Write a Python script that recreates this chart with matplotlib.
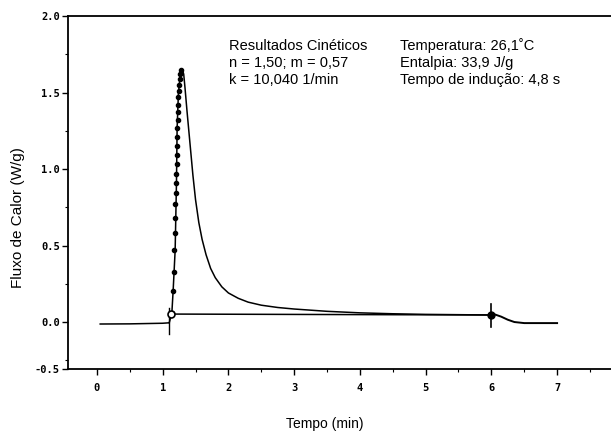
import matplotlib.pyplot as plt
from matplotlib.ticker import MultipleLocator

base_x = [0.05, 0.5, 1.0, 1.10]
base_y = [-0.013, -0.012, -0.008, -0.005]

peak_x = [1.10, 1.14, 1.16, 1.19, 1.21, 1.22, 1.24, 1.27, 1.30, 1.32, 1.34, 1.37, 1.40,
          1.43, 1.46, 1.50, 1.55, 1.60, 1.66, 1.73, 1.80, 1.90, 2.0, 2.15, 2.3, 2.5,
          2.75, 3.0, 3.5, 4.0, 4.5, 5.0, 5.5, 6.0]
peak_y = [-0.005, 0.06, 0.21, 0.47, 0.91, 1.27, 1.50, 1.62, 1.65, 1.62, 1.53, 1.38, 1.24,
          1.10, 0.96, 0.80, 0.65, 0.54, 0.44, 0.35, 0.29, 0.23, 0.19, 0.155, 0.13, 0.11,
          0.095, 0.085, 0.07, 0.06, 0.054, 0.05, 0.048, 0.046]

tail_x = [6.0, 6.05, 6.15, 6.25, 6.35, 6.5, 7.0]
tail_y = [0.046, 0.05, 0.035, 0.015, 0.0, -0.007, -0.007]

# kinetic fit points
fit_x = [1.14, 1.155, 1.165, 1.18, 1.185, 1.19, 1.195, 1.20, 1.205, 1.21, 1.212, 1.215,
         1.218, 1.22, 1.222, 1.226, 1.23, 1.234, 1.238, 1.245, 1.25, 1.26, 1.27, 1.285]
fit_y = [0.06, 0.20, 0.33, 0.47, 0.58, 0.68, 0.77, 0.84, 0.91, 0.97, 1.03, 1.09,
         1.15, 1.21, 1.27, 1.32, 1.37, 1.42, 1.47, 1.51, 1.55, 1.59, 1.62, 1.645]

# integration baseline and its limits
line_x = [1.13, 6.0]
line_y = [0.052, 0.046]

ytick_pos = [-0.307, 0.0, 0.5, 1.0, 1.5, 2.0]
ytick_lbl = ['-0.5', '0.0', '0.5', '1.0', '1.5', '2.0']
xticks = [0, 1, 2, 3, 4, 5, 6, 7]

col1 = ['Resultados Cinéticos', 'n = 1,50; m = 0,57', 'k = 10,040 1/min']
col2 = ['Temperatura: 26,1˚C', 'Entalpia: 33,9 J/g', 'Tempo de indução: 4,8 s']

plt.rcParams['font.family'] = ['Liberation Sans', 'DejaVu Sans']

fig = plt.figure(figsize=(6.11, 4.36), dpi=100)
ax = fig.add_axes([68 / 611, 67 / 436, 543 / 611, 353 / 436])

ax.plot(base_x, base_y, color='black', lw=1.1)
ax.plot(peak_x, peak_y, color='black', lw=1.1)
ax.plot(tail_x, tail_y, color='black', lw=1.4)
ax.plot(fit_x, fit_y, 'o', color='black', ms=3)
ax.plot(line_x, line_y, color='black', lw=1.1)
ax.plot([1.10, 1.10], [-0.08, 0.09], color='black', lw=1.0)
ax.plot([6.0, 6.0], [-0.03, 0.12], color='black', lw=1.2)
ax.plot(line_x[0], line_y[0], 'o', mfc='white', mec='black', ms=5, mew=1.2)
ax.plot(line_x[1], line_y[1], 'o', color='black', ms=5)

ax.set_xlim(-0.44, 7.82)
ax.set_ylim(-0.307, 2.0)
ax.spines['right'].set_visible(False)
for s in ['left', 'bottom', 'top']:
    ax.spines[s].set_linewidth(1.3)

ax.set_xticks(xticks)
ax.xaxis.set_minor_locator(MultipleLocator(0.5))
ax.set_yticks(ytick_pos, ytick_lbl)
ax.yaxis.set_minor_locator(MultipleLocator(0.25))
ax.tick_params(direction='out', length=4, width=1.0)
ax.tick_params(which='minor', direction='out', length=2, width=0.8)
ax.tick_params(axis='y', pad=2)
ax.tick_params(axis='x', pad=6)
for lab in ax.get_xticklabels() + ax.get_yticklabels():
    lab.set_family('DejaVu Sans Mono')
    lab.set_fontweight('bold')
    lab.set_fontsize(7.5)

ax.set_xlabel('Tempo (min)', fontsize=10)
ax.set_ylabel('Fluxo de Calor (W/g)', fontsize=11)
ax.xaxis.set_label_coords(0.473, -0.136)
ax.yaxis.set_label_coords(-0.079, 0.43)

for i, (a, b) in enumerate(zip(col1, col2)):
    fig.text(229 / 611, 1 - (46 + 17 * i) / 436, a, fontsize=10.5, va='center')
    fig.text(400 / 611, 1 - (46 + 17 * i) / 436, b, fontsize=10.5, va='center')

plt.savefig('out.png')
plt.close()
